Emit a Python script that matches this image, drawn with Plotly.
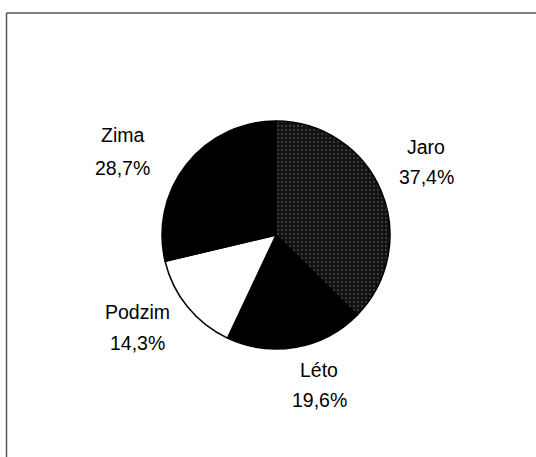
import plotly.graph_objects as go

labels = ["Jaro", "Léto", "Podzim", "Zima"]
values = [37.4, 19.6, 14.3, 28.7]
pct_text = ["37,4%", "19,6%", "14,3%", "28,7%"]
colors = ["#111111", "#000000", "#ffffff", "#000000"]

W, H = 536, 457
cx, cy, r = 276, 235, 114

fig = go.Figure()
fig.add_trace(go.Pie(
    labels=labels, values=values, sort=False, direction="clockwise", rotation=0,
    textinfo="none", hoverinfo="label+percent", showlegend=False,
    marker=dict(colors=colors, line=dict(color="#000000", width=1.5),
                pattern=dict(shape=[".", "", "", ""], fgcolor="#7a7a7a",
                             bgcolor="#111111", size=4, solidity=0.1)),
    domain=dict(x=[(cx - r) / W, (cx + r) / W], y=[(H - cy - r) / H, (H - cy + r) / H]),
))

label_pos = {
    "Jaro": (426, 147, 177),
    "Léto": (319, 370, 400),
    "Podzim": (137, 312, 343),
    "Zima": (122, 135, 168),
}
font = dict(family="Liberation Sans, Arial, sans-serif", size=19.5, color="#000000")
for name, pct in zip(labels, pct_text):
    x, y1, y2 = label_pos[name]
    for txt, yy in ((name, y1), (pct, y2)):
        fig.add_annotation(x=x / W, y=1 - yy / H, xref="paper", yref="paper",
                           text=txt, showarrow=False, font=font,
                           xanchor="center", yanchor="middle")

# frame: only the left and top edges fall inside the picture
frame_line = dict(color="#555555", width=1.5)
fig.add_shape(type="line", xref="paper", yref="paper",
              x0=6.5 / W, x1=6.5 / W, y0=0, y1=1 - 13 / H, line=frame_line)
fig.add_shape(type="line", xref="paper", yref="paper",
              x0=6.5 / W, x1=1, y0=1 - 13 / H, y1=1 - 13 / H, line=frame_line)

fig.update_layout(width=W, height=H, margin=dict(l=0, r=0, t=0, b=0),
                  paper_bgcolor="#ffffff", plot_bgcolor="#ffffff")
fig.write_html("out.html", config={"displayModeBar": False},
               post_script="document.body.style.margin='0';document.body.style.overflow='hidden';"
                           "document.documentElement.style.overflow='hidden';")
